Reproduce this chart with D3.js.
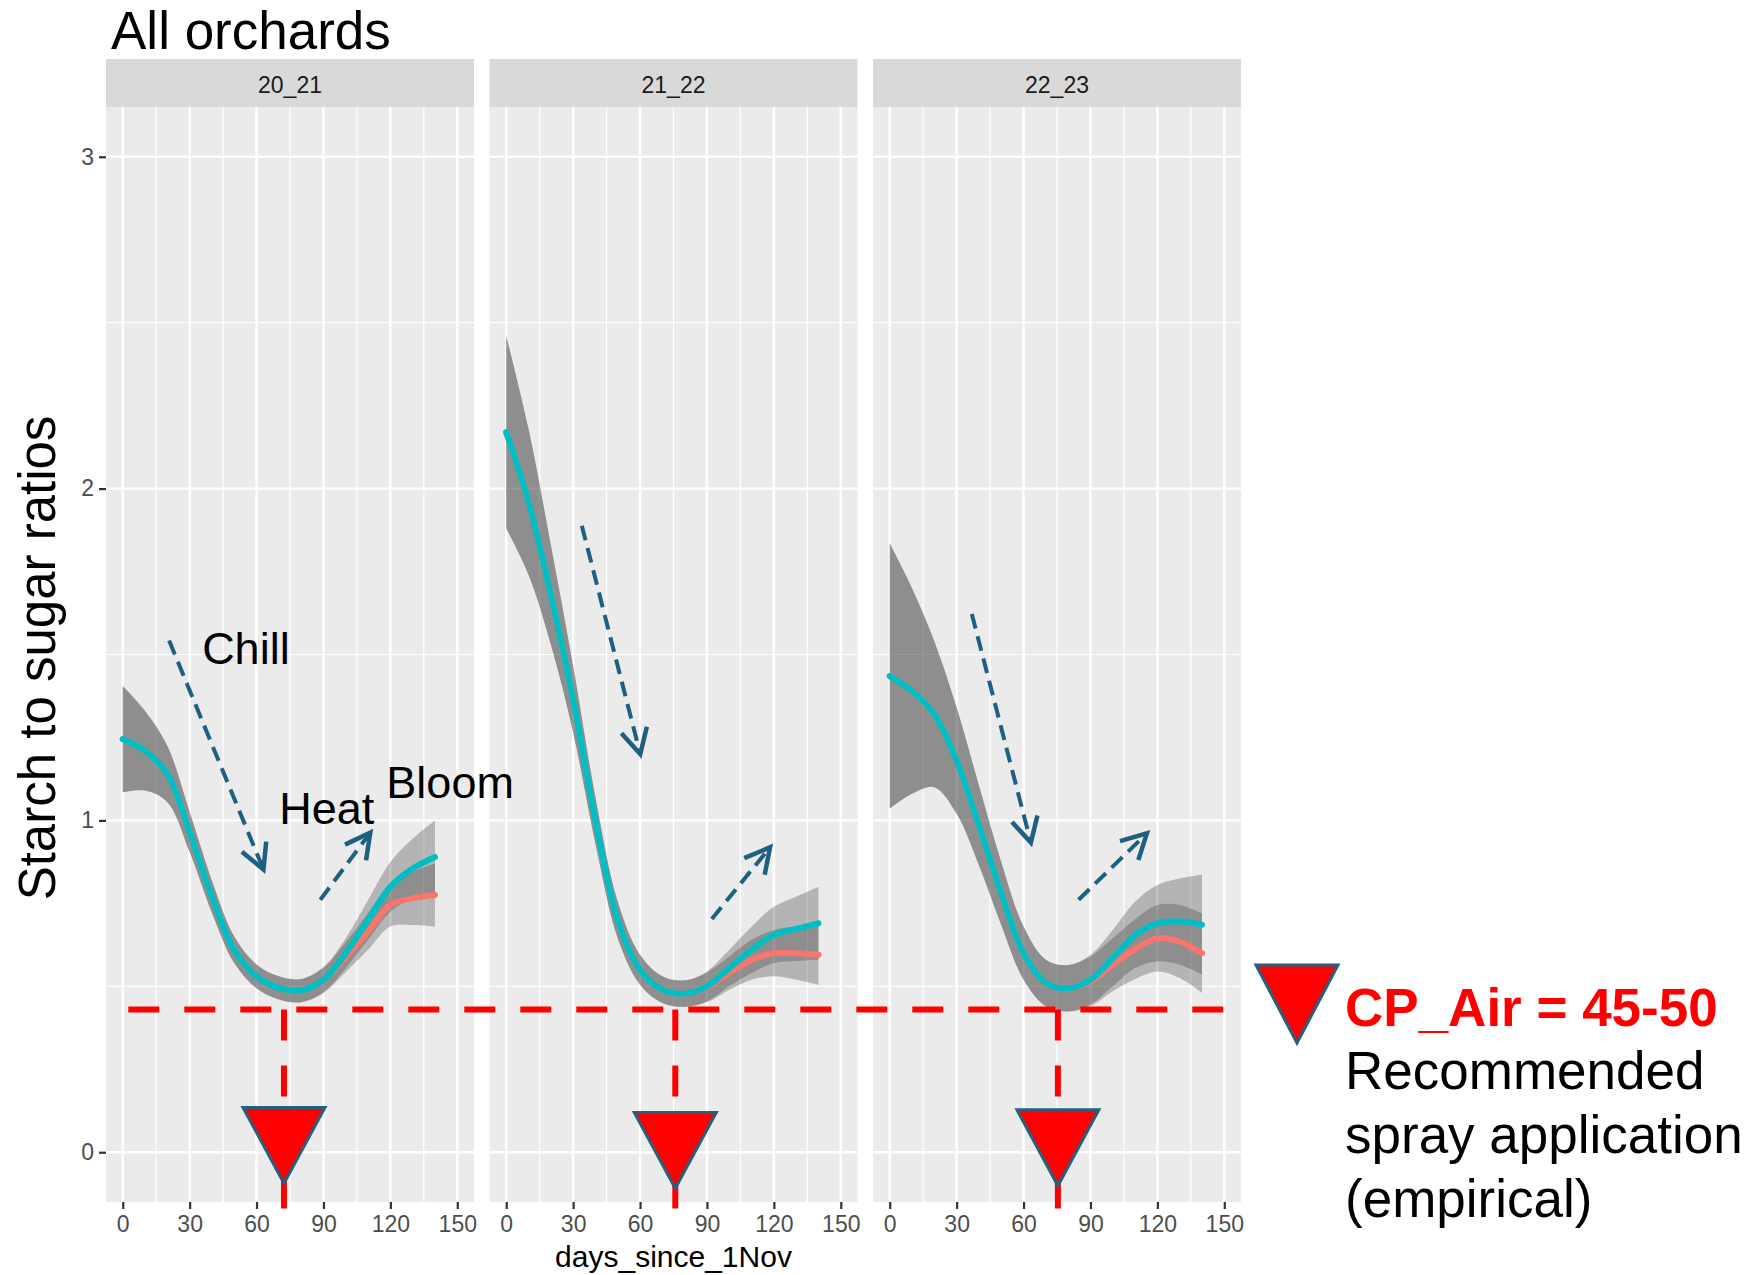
<!DOCTYPE html>
<html>
<head>
<meta charset="utf-8">
<script src="https://cdn.jsdelivr.net/npm/d3@7"></script>
<style>
  body { margin: 0; background: #fff; }
  text { font-family: "Liberation Sans", Arial, sans-serif; }
</style>
</head>
<body>
<svg id="chart" width="1748" height="1275"></svg>
<script>
// ---- data ----
const seasons = ["20_21", "21_22", "22_23"];
const days = [0, 10, 20, 30, 40, 50, 60, 70, 80, 90, 100, 110, 120, 130, 140];
const xTicks = [0, 30, 60, 90, 120, 150];
const xMinor = [15, 45, 75, 105, 135];
const yTicks = [0, 1, 2, 3];
const yMinor = [0.5, 1.5, 2.5];

// teal smooth (fit) and its standard error band
const teal2021 = [1.245, 1.21, 1.14, 0.965, 0.77, 0.61, 0.53, 0.495, 0.487, 0.52, 0.60, 0.70, 0.80, 0.855, 0.89];
const teal2122 = [2.17, 1.96, 1.68, 1.365, 1.00, 0.70, 0.55, 0.49, 0.478, 0.50, 0.555, 0.61, 0.655, 0.673, 0.69];
const teal2223 = [1.435, 1.39, 1.32, 1.18, 0.985, 0.78, 0.60, 0.51, 0.494, 0.52, 0.585, 0.655, 0.69, 0.695, 0.686];
const tealSe2021 = [0.16, 0.12, 0.085, 0.06, 0.048, 0.04, 0.036, 0.035, 0.035, 0.038, 0.045, 0.06, 0.075, 0.09, 0.11];
const tealSe2122 = [0.29, 0.22, 0.15, 0.10, 0.07, 0.055, 0.045, 0.04, 0.04, 0.045, 0.055, 0.07, 0.085, 0.097, 0.11];
const tealSe2223 = [0.40, 0.31, 0.22, 0.16, 0.12, 0.095, 0.08, 0.07, 0.07, 0.075, 0.085, 0.10, 0.115, 0.13, 0.15];

// red smooth and its band
const red2021 = [1.245, 1.21, 1.14, 0.965, 0.77, 0.61, 0.53, 0.495, 0.487, 0.518, 0.588, 0.665, 0.745, 0.765, 0.775];
const red2122 = [2.17, 1.96, 1.68, 1.365, 1.00, 0.70, 0.55, 0.49, 0.478, 0.497, 0.54, 0.58, 0.60, 0.60, 0.595];
const red2223 = [1.435, 1.39, 1.32, 1.18, 0.985, 0.78, 0.60, 0.51, 0.494, 0.515, 0.565, 0.612, 0.645, 0.635, 0.60];
const redSe2021 = [0.16, 0.12, 0.085, 0.06, 0.048, 0.04, 0.036, 0.035, 0.035, 0.038, 0.045, 0.055, 0.065, 0.08, 0.095];
const redSe2122 = [0.29, 0.22, 0.15, 0.10, 0.07, 0.055, 0.045, 0.04, 0.04, 0.045, 0.05, 0.06, 0.07, 0.08, 0.09];
const redSe2223 = [0.40, 0.31, 0.22, 0.16, 0.12, 0.095, 0.08, 0.07, 0.07, 0.075, 0.08, 0.09, 0.10, 0.11, 0.12];

// annotations, in panel data coordinates [day, ratio]
const chillFrom = [[20.8, 1.542], [33.9, 1.888], [36.8, 1.622]];
const chillTo = [[63.1, 0.852], [60.1, 1.20], [63.3, 0.933]];
const heatFrom = [[88.6, 0.761], [92.2, 0.703], [84.7, 0.761]];
const heatTo = [[111, 0.963], [118.3, 0.919], [115.3, 0.961]];
const phaseLabels = ["Chill", "Heat", "Bloom"];
const phaseAt = [[35.6, 1.471], [70.2, 0.988], [118.2, 1.069]];
const thresholdRatio = 0.43;
const sprayDay = [72.3, 75.8, 75.4];
const markerTop = [0.135, 0.12, 0.128];

// ---- layout ----
const svg = d3.select("#chart");
const panelW = 368, panelGap = 15.5, firstLeft = 106;
const panelTop = 107, panelBottom = 1202, stripTop = 59;

const y = d3.scaleLinear().domain([-0.15, 3.15]).range([panelBottom, panelTop]);
const xs = seasons.map((s, i) => {
  const l = firstLeft + i * (panelW + panelGap);
  return d3.scaleLinear().domain([-7.5, 157.5]).range([l, l + panelW]);
});

const tealFits = [teal2021, teal2122, teal2223];
const tealSes = [tealSe2021, tealSe2122, tealSe2223];
const redFits = [red2021, red2122, red2223];
const redSes = [redSe2021, redSe2122, redSe2223];

const arrowColor = "#1F5F80";

seasons.forEach((season, i) => {
  const x = xs[i];
  const [l, r] = x.range();
  const g = svg.append("g");

  g.append("rect").attr("x", l).attr("y", panelTop)
    .attr("width", panelW).attr("height", panelBottom - panelTop).attr("fill", "#EBEBEB");

  // grid
  g.selectAll(".vmin").data(xMinor).join("line")
    .attr("x1", d => x(d)).attr("x2", d => x(d)).attr("y1", panelTop).attr("y2", panelBottom)
    .attr("stroke", "#fff").attr("stroke-width", 1.2);
  g.selectAll(".hmin").data(yMinor).join("line")
    .attr("x1", l).attr("x2", r).attr("y1", d => y(d)).attr("y2", d => y(d))
    .attr("stroke", "#fff").attr("stroke-width", 1.2);
  g.selectAll(".vmaj").data(xTicks).join("line")
    .attr("x1", d => x(d)).attr("x2", d => x(d)).attr("y1", panelTop).attr("y2", panelBottom)
    .attr("stroke", "#fff").attr("stroke-width", 2.4);
  g.selectAll(".hmaj").data(yTicks).join("line")
    .attr("x1", l).attr("x2", r).attr("y1", d => y(d)).attr("y2", d => y(d))
    .attr("stroke", "#fff").attr("stroke-width", 2.4);

  // strip
  g.append("rect").attr("x", l).attr("y", stripTop)
    .attr("width", panelW).attr("height", panelTop - stripTop).attr("fill", "#D9D9D9");
  g.append("text").attr("x", (l + r) / 2).attr("y", 93)
    .attr("text-anchor", "middle").attr("font-size", 23).attr("fill", "#1A1A1A").text(season);

  // smooths
  const series = [
    { fit: redFits[i], se: redSes[i], color: "#F8766D" },
    { fit: tealFits[i], se: tealSes[i], color: "#00BFC4" }
  ];
  const area = d3.area().curve(d3.curveCatmullRom)
    .x(d => x(d.day)).y0(d => y(d.v - d.se)).y1(d => y(d.v + d.se));
  const line = d3.line().curve(d3.curveCatmullRom)
    .x(d => x(d.day)).y(d => y(d.v));

  series.forEach(s => {
    const pts = days.map((d, k) => ({ day: d, v: s.fit[k], se: s.se[k] }));
    g.append("path").datum(pts).attr("d", area)
      .attr("fill", "#3a3a3a").attr("fill-opacity", 0.31);
  });
  series.forEach(s => {
    const pts = days.map((d, k) => ({ day: d, v: s.fit[k] }));
    g.append("path").datum(pts).attr("d", line)
      .attr("fill", "none").attr("stroke", s.color).attr("stroke-width", 6)
      .attr("stroke-linecap", "round");
  });

  // x axis
  const ax = g.append("g").attr("transform", `translate(0,${panelBottom})`)
    .call(d3.axisBottom(x).tickValues(xTicks).tickSize(7).tickPadding(7));
  ax.select(".domain").remove();
  ax.selectAll("line").attr("stroke", "#333").attr("stroke-width", 2.2);
  ax.selectAll("text").attr("font-size", 23).attr("fill", "#4D4D4D")
    .attr("font-family", "Liberation Sans, Arial, sans-serif");

  if (i === 0) {
    const ay = g.append("g").attr("transform", `translate(${l},0)`)
      .call(d3.axisLeft(y).tickValues(yTicks).tickFormat(d3.format("d")).tickSize(7).tickPadding(5));
    ay.select(".domain").remove();
    ay.selectAll("line").attr("stroke", "#333").attr("stroke-width", 2.2);
    ay.selectAll("text").attr("font-size", 23).attr("fill", "#4D4D4D")
      .attr("font-family", "Liberation Sans, Arial, sans-serif");
  }

  // dashed arrows
  [[chillFrom[i], chillTo[i]], [heatFrom[i], heatTo[i]]].forEach(([a, b]) => {
    const x1 = x(a[0]), y1 = y(a[1]), x2 = x(b[0]), y2 = y(b[1]);
    g.append("line").attr("x1", x1).attr("y1", y1).attr("x2", x2).attr("y2", y2)
      .attr("stroke", arrowColor).attr("stroke-width", 4).attr("stroke-dasharray", "15,8");
    const ang = Math.atan2(y1 - y2, x1 - x2);
    const len = 28, spread = 28 * Math.PI / 180;
    const head = [ang - spread, ang + spread].map(t => [x2 + len * Math.cos(t), y2 + len * Math.sin(t)]);
    g.append("path")
      .attr("d", `M${head[0][0]},${head[0][1]}L${x2},${y2}L${head[1][0]},${head[1][1]}`)
      .attr("fill", "none").attr("stroke", arrowColor).attr("stroke-width", 4.5)
      .attr("stroke-linejoin", "miter");
  });
});

// phase labels (left panel)
svg.append("g").selectAll("text").data(phaseLabels).join("text")
  .attr("x", (d, k) => xs[0](phaseAt[k][0])).attr("y", (d, k) => y(phaseAt[k][1]))
  .attr("font-family", "Noto Sans, Open Sans, sans-serif").attr("font-size", 45)
  .attr("fill", "#000").text(d => d);

// threshold dashed line and spray markers
const red = "#FF0000";
svg.append("line")
  .attr("x1", xs[0](2.5)).attr("x2", xs[2](150))
  .attr("y1", y(thresholdRatio)).attr("y2", y(thresholdRatio))
  .attr("stroke", red).attr("stroke-width", 6).attr("stroke-dasharray", "31,25");

sprayDay.forEach((d, i) => {
  const cx = xs[i](d);
  svg.append("line").attr("x1", cx).attr("x2", cx)
    .attr("y1", y(thresholdRatio)).attr("y2", y(-0.175))
    .attr("stroke", red).attr("stroke-width", 6).attr("stroke-dasharray", "31,25");
  const top = y(markerTop[i]);
  svg.append("path")
    .attr("d", `M${cx - 41},${top}L${cx + 41},${top}L${cx},${top + 76}Z`)
    .attr("fill", red).attr("stroke", "#24607F").attr("stroke-width", 3);
});

// legend
svg.append("path").attr("d", "M1256,965L1338,965L1297,1043Z")
  .attr("fill", red).attr("stroke", "#24607F").attr("stroke-width", 3);
svg.append("text").attr("x", 1345).attr("y", 1026).attr("font-size", 53)
  .attr("font-weight", "bold").attr("fill", red).text("CP_Air = 45-50");
["Recommended", "spray application", "(empirical)"].forEach((t, k) => {
  svg.append("text").attr("x", 1345).attr("y", 1089 + k * 64)
    .attr("font-size", 53).attr("fill", "#000").text(t);
});

// titles
svg.append("text").attr("x", 111).attr("y", 49).attr("font-size", 53)
  .attr("fill", "#000").text("All orchards");
svg.append("text").attr("transform", "translate(55,658) rotate(-90)")
  .attr("text-anchor", "middle").attr("font-size", 51).attr("fill", "#000")
  .text("Starch to sugar ratios");
svg.append("text").attr("x", (xs[1].range()[0] + xs[1].range()[1]) / 2).attr("y", 1267)
  .attr("text-anchor", "middle").attr("font-size", 30).attr("fill", "#000")
  .text("days_since_1Nov");
</script>
</body>
</html>
